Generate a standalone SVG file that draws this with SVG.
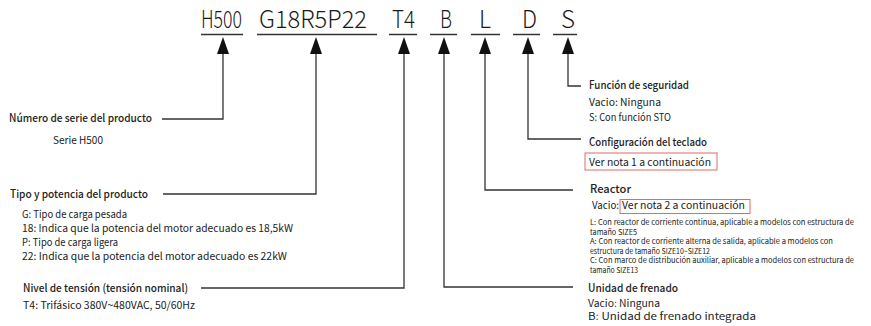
<svg xmlns="http://www.w3.org/2000/svg" width="871" height="326" viewBox="0 0 871 326">
<style>
text{font-family:"Noto Sans CJK SC","Noto Sans",sans-serif;fill:#222}
.code{font-size:24px;font-weight:300;fill:#1a1a1a}
.h{font-size:11px;font-weight:500}
.t{font-size:10.5px}
.f{font-size:9.8px}
.s{font-size:7.8px}
.ul{stroke:#333;stroke-width:1.5;fill:none}
.ln{stroke:#333;stroke-width:1.3;fill:none}
.box{fill:none;stroke:#e06a6a;stroke-width:1}
.ar{fill:#111}
</style>
<rect width="871" height="326" fill="#fff"/>
<g id="code">
<text class="code" x="201" y="28" textLength="41" lengthAdjust="spacingAndGlyphs">H500</text>
<text class="code" x="259" y="28" textLength="108" lengthAdjust="spacingAndGlyphs">G18R5P22</text>
<text class="code" x="392" y="28" textLength="23" lengthAdjust="spacingAndGlyphs">T4</text>
<text class="code" x="440" y="28" textLength="12" lengthAdjust="spacingAndGlyphs">B</text>
<text class="code" x="479" y="28" textLength="12" lengthAdjust="spacingAndGlyphs">L</text>
<text class="code" x="522" y="28" textLength="15" lengthAdjust="spacingAndGlyphs">D</text>
<text class="code" x="561" y="28" textLength="14" lengthAdjust="spacingAndGlyphs">S</text>
<line class="ul" x1="201" y1="34.5" x2="243" y2="34.5"/>
<line class="ul" x1="257" y1="34.5" x2="377" y2="34.5"/>
<line class="ul" x1="389" y1="34.5" x2="417" y2="34.5"/>
<line class="ul" x1="430" y1="34.5" x2="457" y2="34.5"/>
<line class="ul" x1="471" y1="34.5" x2="500" y2="34.5"/>
<line class="ul" x1="513" y1="34.5" x2="540" y2="34.5"/>
<line class="ul" x1="553" y1="34.5" x2="577" y2="34.5"/>
</g>
<g id="connectors">
<polygon class="ar" points="223,37 217,54 229,54"/>
<polygon class="ar" points="316,37 310,54 322,54"/>
<polygon class="ar" points="404,37 398,54 410,54"/>
<polygon class="ar" points="444,37 438,54 450,54"/>
<polygon class="ar" points="485,37 479,54 491,54"/>
<polygon class="ar" points="528,37 522,54 534,54"/>
<polygon class="ar" points="568,37 562,54 574,54"/>
<polyline class="ln" points="223,54 223,119 162,119"/>
<polyline class="ln" points="316,54 316,194 163,194"/>
<polyline class="ln" points="404,54 404,288 201,288"/>
<polyline class="ln" points="444,54 444,287 573,287"/>
<polyline class="ln" points="485,54 485,190 573,190"/>
<polyline class="ln" points="528,54 528,139 581,139"/>
<polyline class="ln" points="568,54 568,86 581,86"/>
</g>
<g id="serie">
<text class="h" x="9" y="122" textLength="143" lengthAdjust="spacingAndGlyphs">Número de serie del producto</text>
<text class="t" x="53" y="144" textLength="50" lengthAdjust="spacingAndGlyphs">Serie H500</text>
</g>
<g id="tipo">
<text class="h" x="10" y="198" textLength="138" lengthAdjust="spacingAndGlyphs">Tipo y potencia del producto</text>
<text class="t" x="22" y="218" textLength="105" lengthAdjust="spacingAndGlyphs">G: Tipo de carga pesada</text>
<text class="t" x="22" y="232" textLength="271" lengthAdjust="spacingAndGlyphs">18: Indica que la potencia del motor adecuado es 18,5kW</text>
<text class="t" x="22" y="246" textLength="96" lengthAdjust="spacingAndGlyphs">P: Tipo de carga ligera</text>
<text class="t" x="22" y="260" textLength="265" lengthAdjust="spacingAndGlyphs">22: Indica que la potencia del motor adecuado es 22kW</text>
</g>
<g id="tension">
<text class="h" x="23" y="292" textLength="165" lengthAdjust="spacingAndGlyphs">Nivel de tensión (tensión nominal)</text>
<text class="t" x="23" y="309" textLength="172" lengthAdjust="spacingAndGlyphs">T4: Trifásico 380V~480VAC, 50/60Hz</text>
</g>
<g id="seguridad">
<text class="h" x="589" y="89" textLength="100" lengthAdjust="spacingAndGlyphs">Función de seguridad</text>
<text class="t" x="589" y="106" textLength="72" lengthAdjust="spacingAndGlyphs">Vacio: Ninguna</text>
<text class="t" x="589" y="121" textLength="82" lengthAdjust="spacingAndGlyphs">S: Con función STO</text>
</g>
<g id="teclado">
<text class="h" x="589" y="146" textLength="118" lengthAdjust="spacingAndGlyphs">Configuración del teclado</text>
<rect class="box" x="585" y="153" width="132" height="17"/>
<text class="t" x="589" y="166" textLength="122" lengthAdjust="spacingAndGlyphs">Ver nota 1 a continuación</text>
</g>
<g id="reactor">
<text class="h" x="590" y="193" textLength="41" lengthAdjust="spacingAndGlyphs">Reactor</text>
<text class="t" x="592" y="209" textLength="27" lengthAdjust="spacingAndGlyphs">Vacio:</text>
<rect class="box" x="620" y="199.5" width="130" height="14"/>
<text class="t" x="622" y="209" textLength="123" lengthAdjust="spacingAndGlyphs">Ver nota 2 a continuación</text>
<text class="s" x="590" y="225" textLength="264" lengthAdjust="spacingAndGlyphs">L: Con reactor de corriente continua, aplicable a modelos con estructura de</text>
<text class="s" x="590" y="234.5" textLength="47" lengthAdjust="spacingAndGlyphs">tamaño SIZE5</text>
<text class="s" x="590" y="244" textLength="243" lengthAdjust="spacingAndGlyphs">A: Con reactor de corriente alterna de salida, aplicable a modelos con</text>
<text class="s" x="590" y="253.5" textLength="120" lengthAdjust="spacingAndGlyphs">estructura de tamaño SIZE10~SIZE12</text>
<text class="s" x="590" y="263" textLength="264" lengthAdjust="spacingAndGlyphs">C: Con marco de distribución auxiliar, aplicable a modelos con estructura de</text>
<text class="s" x="590" y="272.5" textLength="48" lengthAdjust="spacingAndGlyphs">tamaño SIZE13</text>
</g>
<g id="frenado">
<text class="h" x="588" y="292" textLength="90" lengthAdjust="spacingAndGlyphs">Unidad de frenado</text>
<text class="f" x="588" y="306.5" textLength="72" lengthAdjust="spacingAndGlyphs">Vacio: Ninguna</text>
<text class="f" x="588" y="320" textLength="168" lengthAdjust="spacingAndGlyphs">B: Unidad de frenado integrada</text>
</g>
</svg>
